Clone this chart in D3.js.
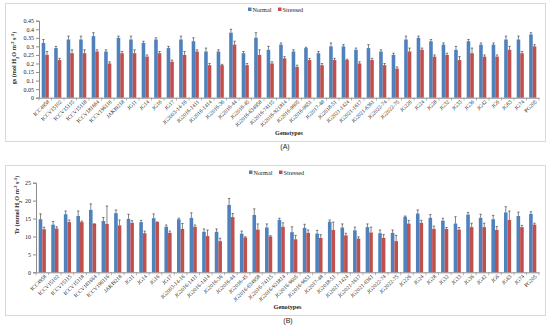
<!DOCTYPE html>
<html><head><meta charset="utf-8">
<script src="https://cdn.jsdelivr.net/npm/d3@7"></script>
<style>body{margin:0;background:#fff}svg{display:block}</style>
</head><body>
<script>
const genotypes = ["ICC4958","ICCV15102","ICCV15115","ICCV15118","ICCV181664","ICCV196116","JAKI9218","JG11","JG14","JG16","JG17","JG2003-14-16","JG2016-1411","JG2016-1414","JG2016-36","JG2016-44","JG2016-45","JG2016-634958","JG2016-74115","JG2016-921814","JG2016-9605","JG2016-9651","JG2017-48","JG2018-51","JG2021-1424","JG2021-1617","JG2021-6361","JG2022-74","JG2022-75","JG226","JG24","JG28","JG32","JG33","JG36","JG42","JG6","JG63","JG74","PG205"];
const seriesNames = ["Normal","Stressed"];
// Panel A: gs
const gsNormal   = [0.32,0.29,0.34,0.34,0.36,0.27,0.35,0.34,0.32,0.34,0.29,0.34,0.33,0.27,0.27,0.38,0.26,0.35,0.28,0.31,0.27,0.29,0.26,0.30,0.30,0.28,0.29,0.27,0.25,0.34,0.35,0.33,0.31,0.28,0.33,0.31,0.31,0.34,0.34,0.37];
const gsNormalErr= [0.02,0.01,0.02,0.02,0.02,0.01,0.01,0.02,0.01,0.01,0.01,0.02,0.02,0.02,0.01,0.02,0.01,0.03,0.02,0.01,0.01,0.005,0.01,0.02,0.01,0.01,0.02,0.01,0.01,0.02,0.01,0.01,0.01,0.02,0.01,0.01,0.01,0.02,0.02,0.01];
const gsStressed = [0.25,0.22,0.26,0.26,0.27,0.20,0.26,0.26,0.24,0.26,0.21,0.25,0.27,0.19,0.19,0.31,0.19,0.25,0.20,0.23,0.18,0.22,0.19,0.22,0.22,0.20,0.22,0.19,0.17,0.27,0.28,0.24,0.25,0.22,0.26,0.24,0.24,0.28,0.26,0.30];
const gsStressedErr=[0.02,0.01,0.02,0.02,0.01,0.01,0.01,0.02,0.01,0.01,0.01,0.02,0.01,0.01,0.005,0.02,0.01,0.03,0.01,0.01,0.01,0.01,0.01,0.01,0.005,0.01,0.01,0.01,0.01,0.02,0.01,0.01,0.01,0.02,0.03,0.01,0.01,0.02,0.01,0.01];
const gsTicks = [0,0.05,0.1,0.15,0.2,0.25,0.3,0.35,0.4,0.45];
// Panel B: Tr
const trNormal   = [14.8,13.3,16.2,15.7,17.4,14.3,16.5,14.9,14.0,15.1,12.7,14.8,15.2,11.3,11.3,18.8,10.8,16.0,12.5,14.6,11.2,12.4,10.8,14.1,12.5,11.7,12.6,10.9,11.0,15.5,16.4,15.2,14.4,13.6,16.1,15.2,14.8,16.7,15.7,16.3];
const trNormalErr= [1.5,0.9,0.9,1.4,1.7,1.0,0.9,1.3,0.5,1.2,0.5,0.3,1.4,0.8,0.8,1.8,0.7,1.7,1.0,0.5,1.5,1.0,0.9,0.5,1.0,0.9,0.9,0.9,0.8,0.2,1.0,0.9,0.7,1.9,0.6,1.0,1.1,1.6,1.1,0.6];
const trStressed = [12.0,12.2,14.0,14.0,13.5,13.5,13.1,13.8,10.9,14.0,11.0,12.1,12.7,10.1,8.7,15.4,9.7,11.9,10.0,12.7,9.2,11.0,9.6,11.8,10.3,9.4,11.1,9.6,8.7,13.6,13.8,12.1,12.1,11.9,12.6,12.6,11.8,14.6,12.6,13.3];
const trStressedErr=[0.6,0.5,0.6,0.3,0.05,5.0,1.5,0.6,0.6,0.05,0.5,1.5,0.5,1.7,0.8,1.0,0.2,1.6,0.2,1.1,1.1,0.8,0.9,2.2,0.6,0.5,1.5,0.9,1.6,0.9,0.7,0.8,0.4,0.6,1.1,1.1,1.0,2.5,0.5,0.4];
const trTicks = [0,5,10,15,20,25];

const colors = ["#4F81BD","#C0504D"];
const W = 550, H = 328;
const svg = d3.select("body").append("svg").attr("width",W).attr("height",H);
const serif = "'Liberation Serif','Times New Roman',serif";

function panel(cfg){
  const g = svg.append("g");
  g.append("rect").attr("x",cfg.box[0]+0.5).attr("y",cfg.box[1]+0.5)
    .attr("width",cfg.box[2]-cfg.box[0]).attr("height",cfg.box[3]-cfg.box[1])
    .attr("fill","#fff").attr("stroke","#d9d9d9").attr("stroke-width",1);
  const x = d3.scaleBand().domain(genotypes).range([cfg.left,cfg.right]).paddingInner(0).paddingOuter(0);
  const grpW = x.bandwidth()*2/3.5, barW = grpW/2;
  const y = d3.scaleLinear().domain([cfg.ticks[0],cfg.ticks[cfg.ticks.length-1]]).range([cfg.bottom,cfg.top]);
  const ya = g.append("g").attr("transform",`translate(${cfg.left},0)`)
    .call(d3.axisLeft(y).tickValues(cfg.ticks).tickSize(3).tickPadding(2).tickFormat(cfg.fmt));
  ya.select(".domain").attr("stroke","#8c8c8c");
  ya.selectAll(".tick line").attr("stroke","#8c8c8c");
  ya.selectAll("text").attr("font-family",serif).attr("font-size",6).attr("fill","#222");
  const xa = g.append("g").attr("transform",`translate(0,${cfg.bottom})`)
    .call(d3.axisBottom(x).tickSize(0).tickPadding(3));
  xa.select(".domain").attr("stroke","#8c8c8c");
  xa.selectAll(".tick text").attr("font-family",serif).attr("font-size",5.5).attr("fill","#222")
    .attr("text-anchor","end").attr("transform","translate(1,1) rotate(-45)").attr("dy","0.35em").attr("y",3);
  g.append("g").selectAll("line").data(d3.range(genotypes.length+1)).join("line")
    .attr("x1",i=>cfg.left+i*x.bandwidth()).attr("x2",i=>cfg.left+i*x.bandwidth())
    .attr("y1",cfg.bottom).attr("y2",cfg.bottom+3).attr("stroke","#8c8c8c").attr("stroke-width",0.6);
  const series = [cfg.normal, cfg.stressed], errs=[cfg.normalErr, cfg.stressedErr];
  series.forEach((vals,si)=>{
    const bx = d=>x(d)+x.bandwidth()/2 - grpW/2 + si*barW;
    g.append("g").selectAll("rect").data(genotypes).join("rect")
      .attr("x",d=>bx(d)).attr("width",barW)
      .attr("y",(d,i)=>y(vals[i])).attr("height",(d,i)=>y(0)-y(vals[i]))
      .attr("fill",colors[si]);
    const eg = g.append("g").attr("stroke","#333").attr("stroke-width",0.6);
    genotypes.forEach((d,i)=>{
      const cx = bx(d)+barW/2, top=y(vals[i]+errs[si][i]), b=y(vals[i]);
      eg.append("line").attr("x1",cx).attr("x2",cx).attr("y1",top).attr("y2",b);
      eg.append("line").attr("x1",cx-1.2).attr("x2",cx+1.2).attr("y1",top).attr("y2",top);
    });
  });
  const yt = g.append("text").attr("transform",`translate(${cfg.ytx},${cfg.yty}) rotate(-90)`)
    .attr("text-anchor","middle").attr("font-family",serif).attr("font-size",6.2).attr("font-weight","bold").attr("fill","#222");
  cfg.ytitle.forEach(p=>{
    const ts = yt.append("tspan").text(p[0]);
    if(p[1]==="sub"){ts.attr("baseline-shift","sub").attr("font-size",4.5);}
    if(p[1]==="sup"){ts.attr("baseline-shift","super").attr("font-size",4.5);}
  });
  g.append("text").attr("x",(cfg.left+cfg.right)/2).attr("y",cfg.xty).attr("text-anchor","middle")
    .attr("font-family",serif).attr("font-size",6.2).attr("font-weight","bold").attr("fill","#222").text("Genotypes");
  const lg = g.append("g").attr("transform",`translate(${cfg.legx},${cfg.legy})`);
  const lx=[0,30];
  seriesNames.forEach((s,i)=>{
    lg.append("rect").attr("x",lx[i]).attr("y",-2.5).attr("width",3.5).attr("height",3.5).attr("fill",colors[i]);
    lg.append("text").attr("x",lx[i]+4.5).attr("y",1.8).attr("font-family",serif).attr("font-size",6.2).attr("fill","#222").text(s);
  });
  svg.append("text").attr("x",cfg.capx).attr("y",cfg.capy).attr("text-anchor","middle")
    .attr("font-family","'Liberation Sans',Arial,sans-serif").attr("font-size",7).attr("fill","#222").text(cfg.cap);
}

panel({box:[5,3,545,141], left:39, right:539, top:20.7, bottom:97.7, ticks:gsTicks,
  fmt:d=>d===0?"0":d3.format("")(+d.toFixed(2)),
  normal:gsNormal, stressed:gsStressed, normalErr:gsNormalErr, stressedErr:gsStressedErr,
  ytx:16, yty:58, ytitle:[["gs (mol H","n"],["2","sub"],["O m","n"],["-2","sup"],[" s","n"],["-1","sup"],[")","n"]],
  xty:135, legx:248, legy:10, cap:"(A)", capx:285, capy:149});
panel({box:[5,165,545,315], left:36, right:539, top:182.7, bottom:272.3, ticks:trTicks,
  fmt:d=>String(d),
  normal:trNormal, stressed:trStressed, normalErr:trNormalErr, stressedErr:trStressedErr,
  ytx:19, yty:205, ytitle:[["Tr (mmol H","n"],["2","sub"],["O m","n"],["-2","sup"],[" s","n"],["-1","sup"],[")","n"]],
  xty:309, legx:249, legy:173, cap:"(B)", capx:288, capy:323});
</script>
</body></html>
